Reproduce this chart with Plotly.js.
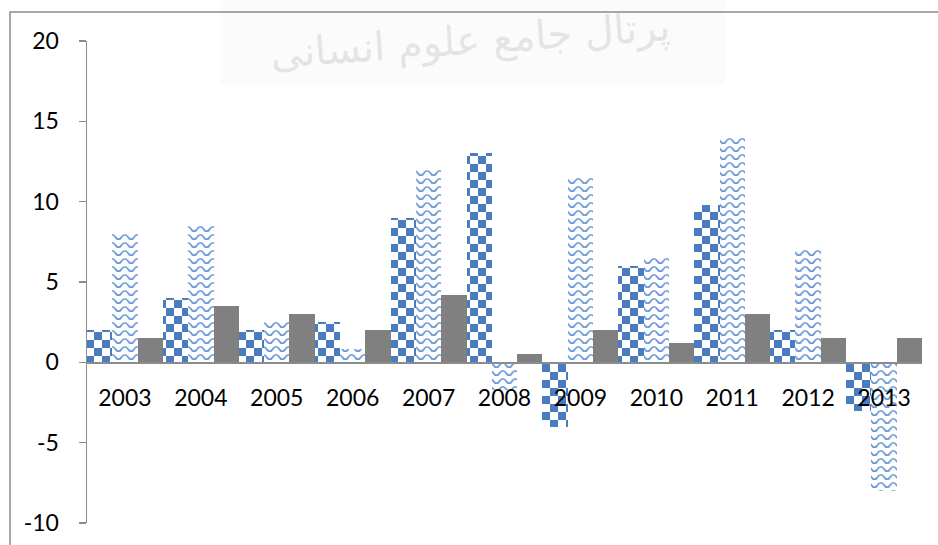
<!DOCTYPE html>
<html>
<head>
<meta charset="utf-8">
<script src="https://cdn.plot.ly/plotly-3.0.1.min.js"></script>
<style>
html,body{margin:0;padding:0;background:#fff;}
#chart{width:938px;height:545px;}
</style>
</head>
<body>
<div id="chart"></div>
<script>
const years = ['2003','2004','2005','2006','2007','2008','2009','2010','2011','2012','2013'];
const seriesA = [2, 4, 2, 2.5, 9, 13, -4, 6, 9.8, 2, -3];        // checkerboard
const seriesB = [8, 8.5, 2.5, 0.8, 12, -1.7, 11.5, 6.5, 14, 7, -8]; // wave
const seriesC = [1.5, 3.5, 3, 2, 4.2, 0.5, 2, 1.2, 3, 1.5, 1.5];  // solid gray
const yTicks = [-10, -5, 0, 5, 10, 15, 20];
const watermark = 'پرتال جامع علوم انسانی';

const font = {family: 'Lato, "Open Sans", sans-serif', size: 23, color: '#000'};

const traces = [
  {type: 'bar', x: years, y: seriesA, name: 'A', marker: {color: '#4a7cc0', line: {width: 0}}},
  {type: 'bar', x: years, y: seriesB, name: 'B', marker: {color: '#6b98d6', line: {width: 0}}},
  {type: 'bar', x: years, y: seriesC, name: 'C', marker: {color: '#808080', line: {width: 0}}}
];

const layout = {
  width: 938, height: 545,
  margin: {l: 87, r: 16, t: 41, b: 22},
  paper_bgcolor: '#fff', plot_bgcolor: 'rgba(0,0,0,0)',
  showlegend: false,
  barmode: 'group', bargap: 0, bargroupgap: 0,
  font: font,
  xaxis: {
    type: 'category',
    anchor: 'free', position: 1/3,
    showline: true, linecolor: '#8c8c8c', linewidth: 1.5,
    ticks: '', showgrid: false, zeroline: false,
    tickfont: font, ticklabelstandoff: 15,
    layer: 'above traces'
  },
  yaxis: {
    range: [-10, 20], tickvals: yTicks, ticktext: yTicks.map(String),
    showline: true, linecolor: '#8c8c8c', linewidth: 1.5,
    ticks: 'outside', ticklen: 7, tickcolor: '#8c8c8c', tickwidth: 1.5,
    showgrid: false, zeroline: false,
    tickfont: font, ticklabelstandoff: 15
  },
  shapes: [
    {type: 'rect', xref: 'paper', yref: 'paper', x0: (220-87)/835, x1: (725-87)/835, y0: (523-85)/482, y1: 1.2,
     fillcolor: '#fbfbfb', line: {width: 0}, layer: 'below'},
    {type: 'path', xref: 'paper', yref: 'paper',
     path: 'M ' + ((10-87)/835) + ' -0.2 L ' + ((10-87)/835) + ' ' + ((523-12)/482) + ' L 1.1 ' + ((523-12)/482),
     line: {color: '#8c8c8c', width: 1.5}, layer: 'above'}
  ],
  annotations: [
    {xref: 'paper', yref: 'paper', x: (470-87)/835, y: (523-40)/482, xanchor: 'center', yanchor: 'middle',
     text: watermark, showarrow: false,
     font: {family: 'DejaVu Sans', size: 40, color: 'rgba(200,200,200,0.45)'}, textangle: -4}
  ]
};

Plotly.newPlot('chart', traces, layout, {displayModeBar: false, staticPlot: true}).then(function (gd) {
  const svgNS = 'http://www.w3.org/2000/svg';
  const svg = gd.querySelector('.main-svg');
  let defs = svg.querySelector('defs');
  if (!defs) { defs = document.createElementNS(svgNS, 'defs'); svg.insertBefore(defs, svg.firstChild); }

  // checkerboard
  const pc = document.createElementNS(svgNS, 'pattern');
  pc.setAttribute('id', 'checkerPat');
  pc.setAttribute('patternUnits', 'userSpaceOnUse');
  pc.setAttribute('width', '16'); pc.setAttribute('height', '16');
  pc.setAttribute('x', '87'); pc.setAttribute('y', '3');
  pc.innerHTML = '<rect width="16" height="16" fill="#fff"/>' +
    '<rect x="0" y="0" width="8" height="8" fill="#4a7cc0"/>' +
    '<rect x="8" y="8" width="8" height="8" fill="#4a7cc0"/>';
  defs.appendChild(pc);

  // wave
  const pw = document.createElementNS(svgNS, 'pattern');
  pw.setAttribute('id', 'wavePat');
  pw.setAttribute('patternUnits', 'userSpaceOnUse');
  pw.setAttribute('width', '12.6'); pw.setAttribute('height', '8');
  pw.innerHTML = '<rect width="12.6" height="8" fill="#fff"/>' +
    '<path d="M -3.15 4 C -1.5 1, 1.5 1, 3.15 4 C 4.8 7, 7.8 7, 9.45 4 C 11.1 1, 14.1 1, 15.75 4" fill="none" stroke="#6b98d6" stroke-width="1.7"/>';
  defs.appendChild(pw);

  const fills = ['url(#checkerPat)', 'url(#wavePat)', null];
  const groups = gd.querySelectorAll('.barlayer .trace');
  groups.forEach(function (g, i) {
    if (!fills[i]) return;
    g.querySelectorAll('.point path').forEach(function (p) {
      p.style.setProperty('fill', fills[i]);
    });
  });
});
</script>
</body>
</html>
